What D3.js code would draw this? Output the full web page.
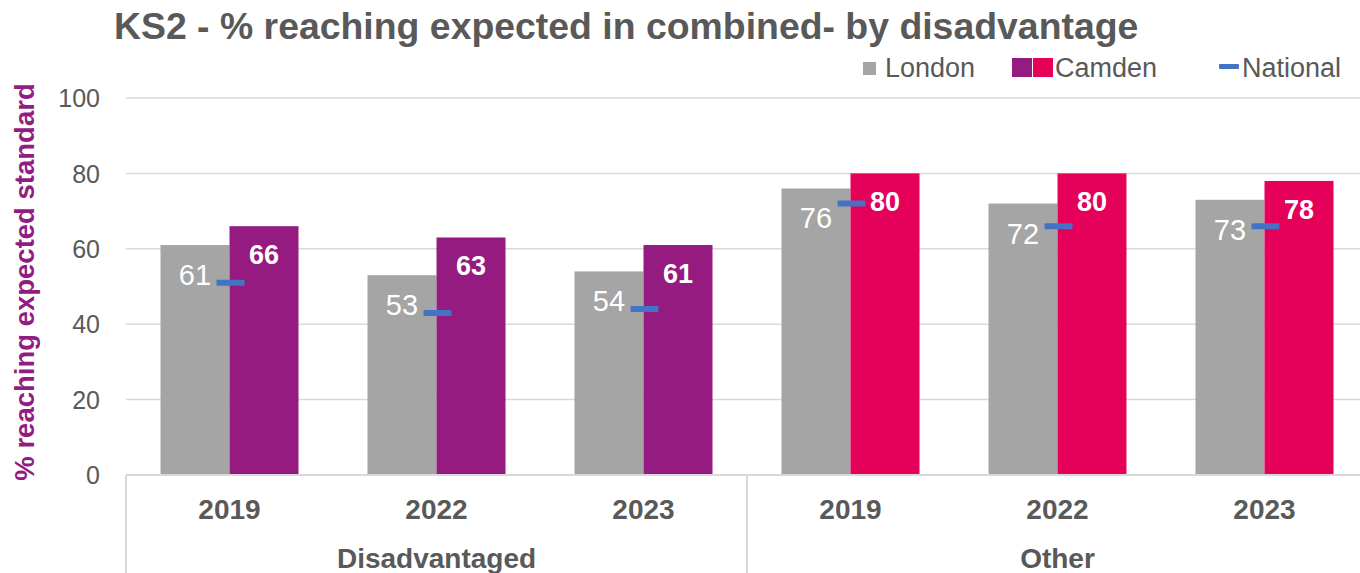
<!DOCTYPE html>
<html>
<head>
<meta charset="utf-8">
<script src="https://cdn.jsdelivr.net/npm/d3@7"></script>
<style>
  html, body { margin: 0; padding: 0; background: #ffffff; }
  svg { display: block; font-family: "Liberation Sans", Arial, sans-serif; }
</style>
</head>
<body>
<svg id="chart" width="1360" height="573"></svg>
<script>
// Chart data
const groups = ["Disadvantaged", "Other"];
const years = ["2019", "2022", "2023"];
const londonValues = [61, 53, 54, 76, 72, 73];
const camdenValues = [66, 63, 61, 80, 80, 78];
const nationalValues = [51, 43, 44, 72, 66, 66];
const yTicks = [0, 20, 40, 60, 80, 100];
const seriesNames = ["London", "Camden", "National"];

const colLondon = "#A5A5A5";
const colCamden = { Disadvantaged: "#951B81", Other: "#E5005A" };
const colNational = "#4472C4";
const textGrey = "#595959";
const gridGrey = "#D9D9D9";

const svg = d3.select("#chart");

// Rows: one per group/year pair
const rows = [];
groups.forEach((g, gi) => years.forEach((y, yi) => {
  const i = gi * years.length + yi;
  rows.push({ key: g + "|" + y, group: g, year: y,
    London: londonValues[i], Camden: camdenValues[i], National: nationalValues[i] });
}));

const x0 = d3.scaleBand()
  .domain(rows.map(d => d.key))
  .range([126, 1368])
  .paddingInner(1 / 3)
  .paddingOuter(1 / 6);
const x1 = d3.scaleBand()
  .domain(["London", "Camden"])
  .range([0, x0.bandwidth()]);
const y = d3.scaleLinear().domain([0, 100]).range([475, 98]);

// Gridlines
svg.append("g")
  .selectAll("line")
  .data(yTicks.filter(t => t > 0))
  .join("line")
  .attr("x1", 126).attr("x2", 1360)
  .attr("y1", d => y(d)).attr("y2", d => y(d))
  .attr("stroke", gridGrey).attr("stroke-width", 1.5);

// Y axis tick labels
const yAxis = d3.axisLeft(y).tickValues(yTicks).tickSize(0).tickPadding(0);
const yg = svg.append("g").attr("transform", "translate(100,0)").call(yAxis);
yg.select(".domain").remove();
yg.selectAll("text")
  .attr("fill", textGrey)
  .attr("font-size", 25)
  .attr("font-family", "'Liberation Sans', Arial, sans-serif")
  .attr("dy", "0.35em");

// Y axis title
svg.append("text")
  .attr("transform", "translate(34,282) rotate(-90)")
  .attr("text-anchor", "middle")
  .attr("fill", "#931C83")
  .attr("font-weight", "bold")
  .attr("font-size", 27.5)
  .text("% reaching expected standard");

// Bars
const bar = svg.append("g").selectAll("g")
  .data(rows)
  .join("g")
  .attr("transform", d => `translate(${x0(d.key)},0)`);

bar.append("rect")
  .attr("x", x1("London"))
  .attr("width", x1.bandwidth())
  .attr("y", d => y(d.London))
  .attr("height", d => y(0) - y(d.London))
  .attr("fill", colLondon);

bar.append("rect")
  .attr("x", x1("Camden"))
  .attr("width", x1.bandwidth())
  .attr("y", d => y(d.Camden))
  .attr("height", d => y(0) - y(d.Camden))
  .attr("fill", d => colCamden[d.group]);

// Value labels
bar.append("text")
  .attr("x", x1("London") + x1.bandwidth() / 2)
  .attr("y", d => y(d.London) + 40)
  .attr("text-anchor", "middle")
  .attr("fill", "#ffffff")
  .attr("font-size", 29)
  .text(d => d.London);

bar.append("text")
  .attr("x", x1("Camden") + x1.bandwidth() / 2)
  .attr("y", d => y(d.Camden) + 38)
  .attr("text-anchor", "middle")
  .attr("fill", "#ffffff")
  .attr("font-weight", "bold")
  .attr("font-size", 27)
  .text(d => d.Camden);

// National markers (dash centred on the pair)
bar.append("rect")
  .attr("x", x0.bandwidth() / 2 - 13)
  .attr("width", 28)
  .attr("y", d => y(d.National) - 3)
  .attr("height", 6)
  .attr("rx", 1)
  .attr("fill", colNational);

// Category axis
const axisG = svg.append("g");
axisG.append("line")
  .attr("x1", 126).attr("x2", 1360)
  .attr("y1", y(0)).attr("y2", y(0))
  .attr("stroke", gridGrey).attr("stroke-width", 2);

// Dividers at the outer edges and between the two groups
const lastOfFirst = rows[years.length - 1].key;
const firstOfSecond = rows[years.length].key;
const dividerXs = [126, (x0(lastOfFirst) + x0.bandwidth() + x0(firstOfSecond)) / 2, 1368];
axisG.selectAll("line.div")
  .data(dividerXs)
  .join("line")
  .attr("class", "div")
  .attr("x1", d => d).attr("x2", d => d)
  .attr("y1", y(0)).attr("y2", 573)
  .attr("stroke", gridGrey).attr("stroke-width", 2);

axisG.selectAll("text.year")
  .data(rows)
  .join("text")
  .attr("class", "year")
  .attr("x", d => x0(d.key) + x0.bandwidth() / 2)
  .attr("y", 519)
  .attr("text-anchor", "middle")
  .attr("fill", textGrey)
  .attr("font-weight", "bold")
  .attr("font-size", 28)
  .text(d => d.year);

axisG.selectAll("text.group")
  .data(groups)
  .join("text")
  .attr("class", "group")
  .attr("x", (g, gi) => {
    const first = rows[gi * years.length], last = rows[gi * years.length + years.length - 1];
    return (x0(first.key) + x0(last.key) + x0.bandwidth()) / 2;
  })
  .attr("y", 568)
  .attr("text-anchor", "middle")
  .attr("fill", textGrey)
  .attr("font-weight", "bold")
  .attr("font-size", 28)
  .text(g => g);

// Title
svg.append("text")
  .attr("x", 114).attr("y", 39)
  .attr("fill", textGrey)
  .attr("font-weight", "bold")
  .attr("font-size", 37.4)
  .text("KS2 - % reaching expected in combined- by disadvantage");

// Legend
const lg = svg.append("g");
lg.append("rect").attr("x", 863).attr("y", 62).attr("width", 13).attr("height", 13).attr("fill", colLondon);
lg.append("text").attr("x", 885).attr("y", 77).attr("fill", textGrey).attr("font-size", 27).text(seriesNames[0]);
lg.append("rect").attr("x", 1012).attr("y", 58).attr("width", 20).attr("height", 19).attr("fill", colCamden.Disadvantaged);
lg.append("rect").attr("x", 1033).attr("y", 58).attr("width", 20).attr("height", 19).attr("fill", colCamden.Other);
lg.append("text").attr("x", 1055).attr("y", 77).attr("fill", textGrey).attr("font-size", 27).text(seriesNames[1]);
lg.append("rect").attr("x", 1219).attr("y", 64).attr("width", 20).attr("height", 5).attr("rx", 1).attr("fill", colNational);
lg.append("text").attr("x", 1242).attr("y", 77).attr("fill", textGrey).attr("font-size", 27).text(seriesNames[2]);
</script>
</body>
</html>
